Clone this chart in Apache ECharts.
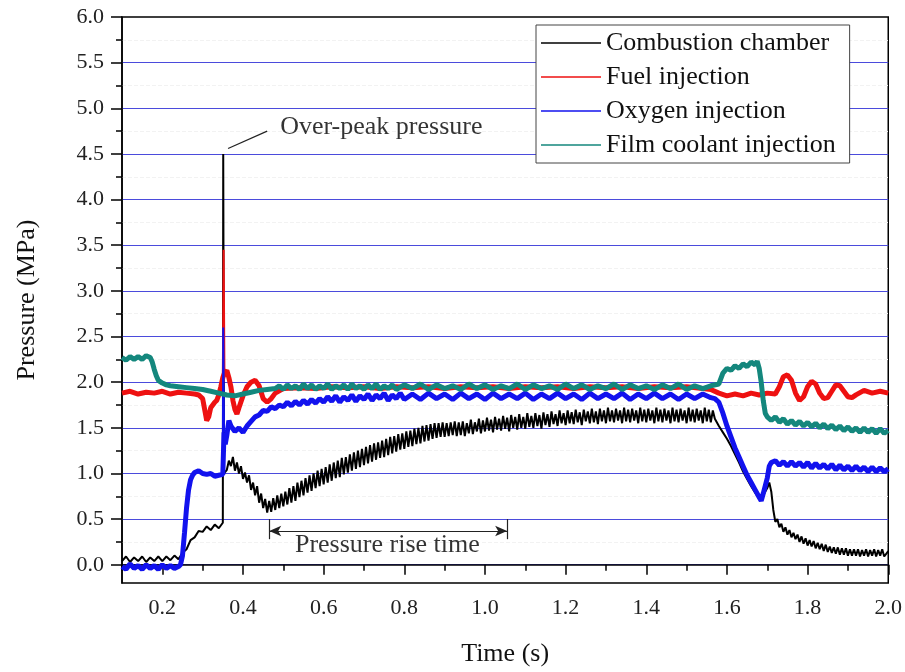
<!DOCTYPE html>
<html>
<head>
<meta charset="utf-8">
<script src="https://cdn.jsdelivr.net/npm/echarts@6/dist/echarts.min.js"></script>
<style>
  html, body { margin: 0; padding: 0; background: #fff; }
  #main { width: 905px; height: 672px; }
</style>
</head>
<body>
<div id="main"></div>
<script>
// ticks / labels
const xMajor = [0.2, 0.4, 0.6, 0.8, 1.0, 1.2, 1.4, 1.6, 1.8, 2.0];
const xMinor = [0.1, 0.3, 0.5, 0.7, 0.9, 1.1, 1.3, 1.5, 1.7, 1.9];
const yMajor = [0, 0.5, 1.0, 1.5, 2.0, 2.5, 3.0, 3.5, 4.0, 4.5, 5.0, 5.5, 6.0];
const yMinor = [0.25, 0.75, 1.25, 1.75, 2.25, 2.75, 3.25, 3.75, 4.25, 4.75, 5.25, 5.75];
const gridLines = [0, 0.5, 1.0, 1.5, 2.0, 2.5, 3.0, 3.5, 4.0, 4.5, 5.0, 5.5];

const names = ['Combustion chamber', 'Fuel injection', 'Oxygen injection', 'Film coolant injection'];
const colors = ['#000000', '#ee1111', '#1212ee', '#14877d'];

// combustion chamber pressure [t, MPa]
const chamber = [
  [0.10,0.04],[0.11,0.09],[0.12,0.03],[0.13,0.08],[0.14,0.04],[0.15,0.09],[0.16,0.03],[0.17,0.08],[0.18,0.04],
  [0.19,0.09],[0.20,0.04],[0.21,0.09],[0.22,0.05],[0.23,0.10],[0.24,0.06],[0.25,0.13],[0.26,0.17],[0.27,0.27],
  [0.28,0.30],[0.29,0.37],[0.30,0.36],[0.31,0.42],[0.32,0.38],[0.33,0.44],[0.34,0.40],[0.35,0.46],
  [0.351,4.5],[0.353,1.0],
  [0.36,1.04],[0.365,1.14],[0.37,1.08],[0.375,1.18],[0.38,1.03],[0.385,1.12],[0.39,1.00],[0.395,1.08],[0.40,0.94],
  [0.405,1.01],[0.41,0.90],[0.415,0.98],[0.42,0.82],[0.425,0.90],[0.43,0.76],[0.435,0.86],[0.44,0.68],[0.445,0.78],
  [0.45,0.62],[0.455,0.72],[0.46,0.57],[0.465,0.70],[0.47,0.58],[0.475,0.73],[0.48,0.60],[0.485,0.76],[0.49,0.62],
  [0.495,0.78],[0.50,0.64],[0.505,0.80],[0.51,0.66],[0.515,0.84],[0.52,0.68],[0.525,0.86],[0.53,0.70],[0.535,0.90],
  [0.54,0.74],[0.545,0.92],[0.55,0.76],[0.555,0.95],[0.56,0.79],[0.565,0.98],[0.57,0.81],[0.575,1.00],[0.58,0.84],
  [0.585,1.03],[0.59,0.86],[0.595,1.05],[0.60,0.88],[0.605,1.07],[0.61,0.90],[0.615,1.10],[0.62,0.92],[0.625,1.12],
  [0.63,0.95],[0.635,1.14],[0.64,0.96],[0.645,1.17],[0.65,0.99],[0.655,1.18],[0.66,1.01],[0.665,1.21],[0.67,1.03],
  [0.675,1.23],[0.68,1.05],[0.685,1.25],[0.69,1.07],[0.695,1.27],[0.70,1.09],[0.705,1.29],[0.71,1.11],[0.715,1.31],
  [0.72,1.13],[0.725,1.33],[0.73,1.15],[0.735,1.34],[0.74,1.17],[0.745,1.36],[0.75,1.18],[0.755,1.38],[0.76,1.20],
  [0.765,1.40],[0.77,1.22],[0.775,1.41],[0.78,1.24],[0.785,1.43],[0.79,1.26],[0.795,1.44],[0.80,1.27],[0.805,1.46],
  [0.81,1.29],[0.815,1.47],[0.82,1.30],[0.825,1.49],[0.83,1.32],[0.835,1.50],[0.84,1.33],[0.845,1.52],[0.85,1.35],
  [0.855,1.53],[0.86,1.36],[0.865,1.54],[0.87,1.38],[0.875,1.55],[0.88,1.39],[0.885,1.55],[0.89,1.40],[0.895,1.56],
  [0.900,1.40],[0.905,1.55],[0.910,1.41],[0.915,1.56],[0.920,1.42],[0.925,1.57],[0.930,1.41],[0.935,1.56],
  [0.940,1.42],[0.945,1.57],[0.950,1.41],[0.955,1.55],[0.960,1.44],[0.965,1.59],[0.970,1.43],[0.975,1.56],
  [0.980,1.46],[0.985,1.60],[0.990,1.44],[0.995,1.58],[1.000,1.46],[1.005,1.61],[1.010,1.47],[1.015,1.59],
  [1.020,1.45],[1.025,1.62],[1.030,1.48],[1.035,1.60],[1.040,1.47],[1.045,1.63],[1.050,1.49],[1.055,1.61],
  [1.060,1.46],[1.065,1.64],[1.070,1.50],[1.075,1.62],[1.080,1.48],[1.085,1.65],[1.090,1.50],[1.095,1.62],
  [1.100,1.49],[1.105,1.66],[1.110,1.51],[1.115,1.63],[1.120,1.50],[1.125,1.66],[1.130,1.52],[1.135,1.64],
  [1.140,1.49],[1.145,1.67],[1.150,1.53],[1.155,1.65],[1.160,1.51],[1.165,1.68],[1.170,1.54],[1.175,1.65],
  [1.180,1.52],[1.185,1.69],[1.190,1.55],[1.195,1.66],[1.200,1.53],[1.205,1.69],[1.210,1.55],[1.215,1.67],
  [1.220,1.54],[1.225,1.70],[1.230,1.56],[1.235,1.67],[1.240,1.53],[1.245,1.70],[1.250,1.57],[1.255,1.68],
  [1.260,1.55],[1.265,1.71],[1.270,1.56],[1.275,1.68],[1.280,1.54],[1.285,1.71],[1.290,1.57],[1.295,1.69],
  [1.300,1.55],[1.305,1.72],[1.310,1.57],[1.315,1.69],[1.320,1.56],[1.325,1.71],[1.330,1.58],[1.335,1.69],
  [1.340,1.55],[1.345,1.72],[1.350,1.57],[1.355,1.70],[1.360,1.56],[1.365,1.71],[1.370,1.58],[1.375,1.69],
  [1.380,1.55],[1.385,1.72],[1.390,1.57],[1.395,1.70],[1.400,1.56],[1.405,1.71],[1.410,1.58],[1.415,1.69],
  [1.420,1.55],[1.425,1.72],[1.430,1.57],[1.435,1.70],[1.440,1.56],[1.445,1.71],[1.450,1.58],[1.455,1.69],
  [1.460,1.55],[1.465,1.72],[1.470,1.57],[1.475,1.70],[1.480,1.56],[1.485,1.71],[1.490,1.58],[1.495,1.69],
  [1.500,1.55],[1.505,1.72],[1.510,1.57],[1.515,1.70],[1.520,1.56],[1.525,1.71],[1.530,1.58],[1.535,1.69],
  [1.540,1.55],[1.545,1.72],[1.550,1.57],[1.555,1.70],[1.560,1.56],[1.565,1.69],[1.570,1.60],
  [1.58,1.52],[1.59,1.45],[1.60,1.38],[1.61,1.30],[1.62,1.21],[1.63,1.12],[1.64,1.02],[1.65,0.94],[1.66,0.86],
  [1.67,0.79],[1.68,0.72],[1.69,0.76],[1.70,0.84],[1.705,0.90],[1.71,0.80],[1.715,0.60],[1.72,0.47],[1.725,0.50],
  [1.73,0.41],[1.735,0.45],[1.74,0.36],[1.745,0.41],[1.75,0.33],[1.755,0.38],[1.76,0.30],[1.765,0.35],[1.77,0.28],
  [1.775,0.33],[1.78,0.25],[1.785,0.31],[1.79,0.23],[1.795,0.29],[1.80,0.21],[1.805,0.27],[1.81,0.20],[1.815,0.26],
  [1.82,0.18],[1.825,0.24],[1.83,0.17],[1.835,0.23],[1.84,0.15],[1.845,0.22],[1.85,0.14],[1.855,0.20],[1.86,0.13],
  [1.865,0.19],[1.87,0.12],[1.875,0.19],[1.88,0.11],[1.885,0.18],[1.89,0.11],[1.895,0.18],[1.90,0.10],[1.905,0.17],
  [1.91,0.10],[1.915,0.17],[1.92,0.10],[1.925,0.17],[1.93,0.09],[1.935,0.16],[1.94,0.10],[1.945,0.17],[1.95,0.09],
  [1.955,0.16],[1.96,0.10],[1.965,0.17],[1.97,0.09],[1.975,0.16],[1.98,0.10],[1.985,0.17],[1.99,0.09],[2.00,0.15]
];

// fuel injection pressure (band) and its thin spike
const fuel = [
  [0.10,1.88],[0.12,1.90],[0.14,1.87],[0.16,1.89],[0.18,1.88],[0.20,1.90],[0.22,1.87],[0.24,1.89],[0.26,1.88],
  [0.28,1.87],[0.29,1.86],[0.30,1.82],[0.305,1.70],[0.31,1.58],[0.315,1.62],[0.32,1.72],[0.325,1.75],[0.33,1.78],
  [0.335,1.80],[0.34,1.86],[0.345,1.95],[0.35,2.05],[0.354,2.10],[0.36,2.13],[0.365,2.05],
  [0.37,1.95],[0.375,1.80],[0.38,1.70],[0.385,1.65],[0.39,1.72],[0.40,1.85],[0.41,1.95],[0.42,2.00],[0.43,2.02],
  [0.44,1.96],[0.45,1.82],[0.46,1.78],[0.47,1.82],[0.48,1.88],[0.50,1.93],[0.54,1.94],[0.58,1.93],[0.62,1.95],
  [0.66,1.94],[0.70,1.95],[0.74,1.93],[0.78,1.95],[0.82,1.94],[0.86,1.95],[0.90,1.93],[0.94,1.95],[0.98,1.94],
  [1.02,1.95],[1.06,1.93],[1.10,1.95],[1.14,1.94],[1.18,1.95],[1.22,1.93],[1.26,1.95],[1.30,1.94],[1.34,1.95],
  [1.38,1.93],[1.42,1.95],[1.46,1.94],[1.50,1.95],[1.54,1.93],[1.56,1.92],[1.58,1.88],[1.60,1.85],[1.62,1.87],
  [1.64,1.85],[1.66,1.88],[1.68,1.86],[1.70,1.88],[1.72,1.87],[1.73,1.95],[1.74,2.06],[1.75,2.08],[1.76,2.02],
  [1.77,1.88],[1.78,1.80],[1.79,1.84],[1.80,1.95],[1.81,2.01],[1.82,1.98],[1.83,1.88],[1.84,1.82],[1.85,1.83],
  [1.86,1.90],[1.87,1.97],[1.88,1.96],[1.89,1.90],[1.90,1.84],[1.91,1.83],[1.92,1.86],[1.94,1.91],[1.96,1.88],
  [1.98,1.90],[2.00,1.88]
];
const fuelSpike = [[0.35,2.05],[0.352,3.45],[0.354,2.10]];

// oxygen injection pressure (band) and its thin spike
const oxygen = [
  [0.10,-0.02],[0.11,-0.05],[0.12,0.01],[0.13,-0.04],[0.14,-0.01],[0.15,-0.05],[0.16,0.00],[0.17,-0.04],
  [0.18,-0.01],[0.19,-0.05],[0.20,0.00],[0.21,-0.04],[0.22,-0.01],[0.23,-0.04],[0.24,-0.02],
  [0.245,0.00],[0.25,0.10],[0.255,0.35],[0.26,0.62],[0.265,0.82],[0.27,0.93],[0.275,0.98],[0.28,1.01],[0.29,1.03],
  [0.30,1.00],[0.31,0.99],[0.32,1.00],[0.33,0.97],[0.34,0.98],[0.35,0.99],
  [0.353,1.45],[0.356,1.32],[0.36,1.42],[0.365,1.58],[0.37,1.52],[0.38,1.46],[0.39,1.50],[0.40,1.45],
  [0.41,1.52],[0.42,1.57],[0.43,1.62],[0.44,1.64],[0.45,1.69],[0.46,1.68],[0.47,1.73],[0.48,1.71],[0.49,1.75],
  [0.50,1.73],[0.51,1.78],[0.52,1.74],[0.53,1.79],[0.54,1.75],[0.55,1.80],[0.56,1.76],[0.57,1.81],[0.58,1.77],
  [0.59,1.82],[0.60,1.78],[0.61,1.84],[0.62,1.79],[0.63,1.85],[0.64,1.78],[0.65,1.84],[0.66,1.80],[0.67,1.86],
  [0.68,1.79],[0.69,1.85],[0.70,1.81],[0.71,1.87],[0.72,1.80],[0.73,1.86],[0.74,1.82],[0.75,1.88],[0.76,1.80],
  [0.77,1.86],[0.78,1.82],[0.79,1.88],[0.80,1.81],[0.82,1.87],[0.84,1.81],[0.86,1.88],[0.88,1.82],[0.90,1.87],
  [0.92,1.81],[0.94,1.88],[0.96,1.82],[0.98,1.87],[1.00,1.81],[1.02,1.88],[1.04,1.82],[1.06,1.87],[1.08,1.82],
  [1.10,1.88],[1.12,1.81],[1.14,1.87],[1.16,1.82],[1.18,1.88],[1.20,1.82],[1.22,1.87],[1.24,1.81],[1.26,1.88],
  [1.28,1.82],[1.30,1.87],[1.32,1.82],[1.34,1.88],[1.36,1.81],[1.38,1.87],[1.40,1.82],[1.42,1.88],[1.44,1.82],
  [1.46,1.87],[1.48,1.81],[1.50,1.87],[1.52,1.82],[1.54,1.87],[1.56,1.83],
  [1.57,1.82],[1.58,1.78],[1.59,1.66],[1.60,1.52],[1.61,1.40],[1.62,1.28],[1.63,1.18],[1.64,1.08],[1.65,0.98],
  [1.66,0.90],[1.67,0.82],[1.68,0.74],[1.685,0.70],[1.69,0.78],[1.70,0.95],[1.705,1.08],[1.71,1.12],[1.72,1.14],
  [1.73,1.09],[1.74,1.13],[1.75,1.08],[1.76,1.13],[1.77,1.08],[1.78,1.12],[1.79,1.07],[1.80,1.12],[1.81,1.06],
  [1.82,1.11],[1.83,1.06],[1.84,1.10],[1.85,1.05],[1.86,1.10],[1.87,1.04],[1.88,1.09],[1.89,1.04],[1.90,1.08],
  [1.91,1.03],[1.92,1.08],[1.93,1.03],[1.94,1.07],[1.95,1.02],[1.96,1.07],[1.97,1.02],[1.98,1.06],[1.99,1.02],[2.00,1.05]
];
const oxygenSpike = [[0.35,0.99],[0.351,2.6],[0.353,1.45]];

// film coolant injection pressure
const coolant = [
  [0.10,2.27],[0.11,2.24],[0.12,2.28],[0.13,2.25],[0.14,2.28],[0.15,2.25],[0.16,2.29],[0.17,2.27],[0.175,2.22],
  [0.18,2.14],[0.185,2.07],[0.19,2.02],[0.20,1.99],[0.21,1.97],[0.22,1.96],[0.24,1.95],[0.26,1.94],[0.28,1.93],
  [0.30,1.92],[0.32,1.90],[0.34,1.88],[0.36,1.86],[0.38,1.85],[0.40,1.87],[0.42,1.89],[0.44,1.91],[0.46,1.92],
  [0.48,1.93],[0.49,1.96],[0.50,1.92],[0.51,1.97],[0.52,1.93],[0.53,1.96],[0.54,1.92],[0.55,1.98],[0.56,1.93],
  [0.57,1.97],[0.58,1.92],[0.59,1.96],[0.60,1.93],[0.61,1.98],[0.62,1.92],[0.63,1.96],[0.64,1.93],[0.65,1.97],
  [0.66,1.92],[0.67,1.98],[0.68,1.93],[0.69,1.96],[0.70,1.92],[0.71,1.97],[0.72,1.93],[0.73,1.98],[0.74,1.92],
  [0.75,1.96],[0.76,1.93],[0.77,1.97],[0.78,1.92],[0.80,1.97],[0.82,1.93],[0.84,1.98],[0.86,1.92],[0.88,1.97],
  [0.90,1.93],[0.92,1.96],[0.94,1.92],[0.96,1.98],[0.98,1.93],[1.00,1.97],[1.02,1.92],[1.04,1.96],[1.06,1.93],
  [1.08,1.98],[1.10,1.92],[1.12,1.97],[1.14,1.93],[1.16,1.96],[1.18,1.92],[1.20,1.98],[1.22,1.93],[1.24,1.97],
  [1.26,1.92],[1.28,1.96],[1.30,1.93],[1.32,1.98],[1.34,1.92],[1.36,1.97],[1.38,1.93],[1.40,1.96],[1.42,1.92],
  [1.44,1.97],[1.46,1.93],[1.48,1.98],[1.50,1.92],[1.52,1.96],[1.54,1.93],[1.56,1.96],
  [1.58,1.98],[1.59,2.10],[1.60,2.15],[1.61,2.13],[1.62,2.18],[1.63,2.15],[1.64,2.20],[1.65,2.17],[1.66,2.22],
  [1.67,2.19],[1.675,2.23],[1.68,2.15],[1.685,2.00],[1.69,1.80],[1.695,1.66],[1.70,1.62],[1.71,1.58],[1.72,1.62],
  [1.73,1.56],[1.74,1.60],[1.75,1.54],[1.76,1.58],[1.77,1.53],[1.78,1.57],[1.79,1.52],[1.80,1.56],[1.81,1.51],
  [1.82,1.55],[1.83,1.50],[1.84,1.54],[1.85,1.49],[1.86,1.53],[1.87,1.48],[1.88,1.52],[1.89,1.47],[1.90,1.51],
  [1.91,1.46],[1.92,1.50],[1.93,1.45],[1.94,1.50],[1.95,1.45],[1.96,1.49],[1.97,1.44],[1.98,1.49],[1.99,1.44],[2.00,1.47]
];

// annotations
const notes = [
  { name: 'Over-peak pressure', value: [0.743, 4.79] },
  { name: 'Pressure rise time', value: [0.758, 0.21] }
];
const peakLeader = [[0.363, 4.56], [0.46, 4.75]];
const riseSpan = [0.465, 1.055];
const riseY = 0.37;

const chart = echarts.init(document.getElementById('main'), null, { renderer: 'canvas' });
const font = 'Liberation Serif';

function band(name, data, color, width) {
  return { name: name, type: 'line', data: data, symbol: 'none',
    lineStyle: { color: color, width: width }, itemStyle: { color: color } };
}

const option = {
  animation: false,
  backgroundColor: '#fff',
  textStyle: { fontFamily: font },
  grid: { left: 122, right: 16, top: 17, bottom: 89, show: true, borderColor: '#000', borderWidth: 1.5 },
  legend: {
    data: names,
    orient: 'vertical',
    left: 536,
    top: 25,
    z: 20,
    padding: [5, 14, 5, 5],
    icon: 'rect',
    itemWidth: 60,
    itemHeight: 1.5,
    itemGap: 8,
    backgroundColor: '#fff',
    borderColor: '#444',
    borderWidth: 1,
    textStyle: { fontFamily: font, fontSize: 26, color: '#111', lineHeight: 26 }
  },
  xAxis: [
    {
      type: 'value', min: 0.1, max: 2.0,
      name: 'Time (s)', nameLocation: 'middle', nameGap: 58,
      nameTextStyle: { fontFamily: font, fontSize: 26, color: '#111' },
      axisLine: { lineStyle: { color: '#000', width: 1.5 } },
      axisTick: { customValues: xMajor, length: 10, lineStyle: { color: '#000', width: 1.5 } },
      axisLabel: { customValues: xMajor, margin: 14, fontFamily: font, fontSize: 22, color: '#222',
        formatter: v => v.toFixed(1) },
      splitLine: { show: false }
    },
    {
      type: 'value', min: 0.1, max: 2.0, position: 'bottom',
      axisLine: { show: false },
      axisTick: { customValues: xMinor, length: 6, lineStyle: { color: '#000', width: 1.5 } },
      axisLabel: { show: false },
      splitLine: { show: false }
    }
  ],
  yAxis: [
    {
      type: 'value', min: -0.2, max: 6.0,
      name: 'Pressure (MPa)', nameLocation: 'middle', nameGap: 82,
      nameTextStyle: { fontFamily: font, fontSize: 26, color: '#111' },
      axisLine: { show: true, lineStyle: { color: '#000', width: 1.5 } },
      axisTick: { show: true, customValues: yMajor, length: 11, lineStyle: { color: '#000', width: 1.5 } },
      axisLabel: { customValues: yMajor, margin: 18, fontFamily: font, fontSize: 22, color: '#222',
        formatter: v => v.toFixed(1) },
      splitLine: { show: false }
    },
    {
      type: 'value', min: -0.2, max: 6.0, position: 'left',
      axisLine: { show: false },
      axisTick: { show: true, customValues: yMinor, length: 6, lineStyle: { color: '#000', width: 1.5 } },
      axisLabel: { show: false },
      splitLine: { show: false }
    }
  ],
  series: [
    {
      name: 'grid', type: 'line', data: [], z: 0, silent: true,
      markLine: {
        silent: true, symbol: 'none', label: { show: false }, z: 0,
        data: gridLines.map(v => ({ yAxis: v, lineStyle: { color: '#4b4bdc', width: 1.2, type: 'solid' } }))
          .concat(yMinor.map(v => ({ yAxis: v, lineStyle: { color: '#f2f2f2', width: 1, type: 'dashed' } })))
      }
    },
    Object.assign(band(names[0], chamber, colors[0], 2), {
      markLine: {
        silent: true, label: { show: false }, symbol: 'none',
        lineStyle: { color: '#222', width: 1.2, type: 'solid' },
        data: [
          [{ coord: peakLeader[0] }, { coord: peakLeader[1] }],
          [{ coord: [riseSpan[0], riseY], symbol: 'arrow', symbolSize: [8, 12] },
           { coord: [riseSpan[1], riseY], symbol: 'arrow', symbolSize: [8, 12] }],
          [{ coord: [riseSpan[0], 0.5] }, { coord: [riseSpan[0], 0.28] }],
          [{ coord: [riseSpan[1], 0.5] }, { coord: [riseSpan[1], 0.28] }]
        ]
      }
    }),
    band(names[1], fuel, colors[1], 5),
    band(names[1], fuelSpike, colors[1], 2),
    band(names[2], oxygen, colors[2], 5),
    band(names[2], oxygenSpike, colors[2], 2),
    band(names[3], coolant, colors[3], 5),
    {
      name: 'notes', type: 'scatter', data: notes, symbolSize: 0, silent: true, z: 10,
      itemStyle: { color: '#000' },
      label: { show: true, position: 'inside', formatter: p => p.name,
        fontFamily: font, fontSize: 26, color: '#000' }
    }
  ]
};
chart.setOption(option);
</script>
</body>
</html>
